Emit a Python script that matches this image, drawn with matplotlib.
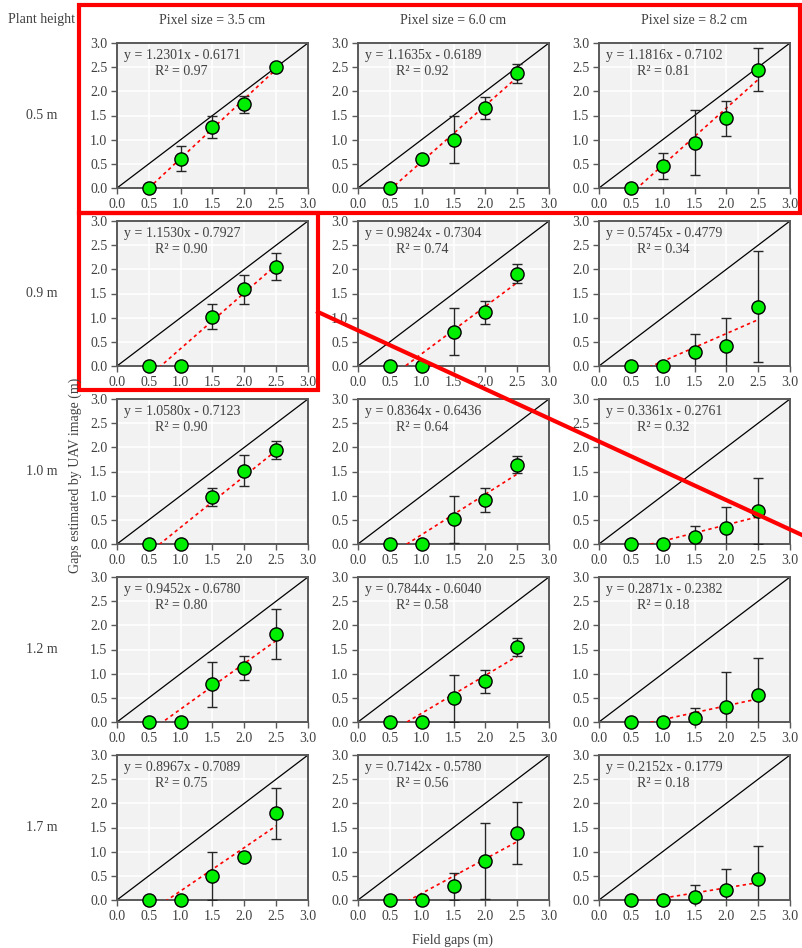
import matplotlib.pyplot as plt
from matplotlib.lines import Line2D
from matplotlib.patches import Rectangle

plt.rcParams['font.family'] = ['Liberation Serif', 'DejaVu Serif']

W, H = 802, 948

field_gaps = [0.5, 1.0, 1.5, 2.0, 2.5]
heights = ["0.5 m", "0.9 m", "1.0 m", "1.2 m", "1.7 m"]
pixel_sizes = ["Pixel size = 3.5 cm", "Pixel size = 6.0 cm", "Pixel size = 8.2 cm"]

# mean estimated gaps, [row][col]
est_05 = [[0.0, 0.61, 1.26, 1.73, 2.51],
          [0.0, 0.59, 1.00, 1.66, 2.37],
          [0.0, 0.45, 0.94, 1.44, 2.45]]
est_09 = [[0.0, 0.0, 1.02, 1.59, 2.05],
          [0.0, 0.0, 0.71, 1.11, 1.91],
          [0.0, 0.0, 0.28, 0.42, 1.23]]
est_10 = [[0.0, 0.0, 0.97, 1.52, 1.94],
          [0.0, 0.0, 0.51, 0.91, 1.64],
          [0.0, 0.0, 0.14, 0.33, 0.68]]
est_12 = [[0.0, 0.0, 0.78, 1.11, 1.82],
          [0.0, 0.0, 0.49, 0.84, 1.55],
          [0.0, 0.0, 0.09, 0.32, 0.56]]
est_17 = [[0.0, 0.0, 0.49, 0.90, 1.79],
          [0.0, 0.0, 0.28, 0.81, 1.38],
          [0.0, 0.0, 0.07, 0.20, 0.43]]

# standard deviations
sd_05 = [[0.0, 0.25, 0.22, 0.17, 0.0],
         [0.0, 0.0, 0.49, 0.23, 0.20],
         [0.0, 0.27, 0.68, 0.37, 0.44]]
sd_09 = [[0.0, 0.0, 0.26, 0.30, 0.28],
         [0.0, 0.0, 0.49, 0.24, 0.20],
         [0.0, 0.0, 0.38, 0.57, 1.15]]
sd_10 = [[0.0, 0.0, 0.18, 0.32, 0.19],
         [0.0, 0.0, 0.49, 0.24, 0.18],
         [0.0, 0.0, 0.23, 0.43, 0.69]]
sd_12 = [[0.0, 0.0, 0.46, 0.25, 0.51],
         [0.0, 0.0, 0.49, 0.24, 0.19],
         [0.0, 0.0, 0.19, 0.71, 0.76]]
sd_17 = [[0.0, 0.0, 0.50, 0.10, 0.52],
         [0.0, 0.0, 0.27, 0.78, 0.64],
         [0.0, 0.0, 0.24, 0.44, 0.69]]

# regression slope, intercept, R2
fit_05 = [(1.2301, -0.6171, 0.97), (1.1635, -0.6189, 0.92), (1.1816, -0.7102, 0.81)]
fit_09 = [(1.1530, -0.7927, 0.90), (0.9824, -0.7304, 0.74), (0.5745, -0.4779, 0.34)]
fit_10 = [(1.0580, -0.7123, 0.90), (0.8364, -0.6436, 0.64), (0.3361, -0.2761, 0.32)]
fit_12 = [(0.9452, -0.6780, 0.80), (0.7844, -0.6040, 0.58), (0.2871, -0.2382, 0.18)]
fit_17 = [(0.8967, -0.7089, 0.75), (0.7142, -0.5780, 0.56), (0.2152, -0.1779, 0.18)]

estimates = [est_05, est_09, est_10, est_12, est_17]
sds = [sd_05, sd_09, sd_10, sd_12, sd_17]
fits = [fit_05, fit_09, fit_10, fit_12, fit_17]

col_left = [117, 358, 599]
row_top = [43, 221, 399, 577, 755]
ax_w, ax_h = 191, 145

fig = plt.figure(figsize=(W / 100, H / 100), dpi=100)
txt_col = '#404040'
spine_col = '#595959'


def fx(x):
    return x / W


def fy(y):
    return 1 - y / H


for r in range(5):
    for c in range(3):
        ax = fig.add_axes([fx(col_left[c]), fy(row_top[r] + ax_h), ax_w / W, ax_h / H])
        ax.set_facecolor('#f2f2f2')
        ax.set_xlim(0, 3)
        ax.set_ylim(0, 3)
        ticks = [0.0, 0.5, 1.0, 1.5, 2.0, 2.5, 3.0]
        ax.set_xticks(ticks)
        ax.set_yticks(ticks)
        ax.set_xticklabels([f"{t:.1f}" for t in ticks])
        ax.set_yticklabels([f"{t:.1f}" for t in ticks])
        ax.tick_params(direction='out', length=4, width=1, color=spine_col,
                       labelsize=10, labelcolor=txt_col, pad=3)
        ax.grid(True, color='white', linewidth=1.2)
        ax.set_axisbelow(True)
        for s in ax.spines.values():
            s.set_color(spine_col)
            s.set_linewidth(1.4)

        ax.plot([0, 3], [0, 3], color='black', linewidth=0.9, zorder=2)

        slope, icpt, r2 = fits[r][c]
        xs = [field_gaps[0], field_gaps[-1]]
        ax.plot(xs, [slope * v + icpt for v in xs], color='red', linestyle=(0, (2, 2)),
                linewidth=1.2, zorder=3)

        ax.errorbar(field_gaps, estimates[r][c], yerr=sds[r][c], fmt='none',
                    ecolor='#262626', elinewidth=1, capsize=3.5, capthick=1, zorder=4)
        ax.plot(field_gaps, estimates[r][c], 'o', markersize=9.5, markerfacecolor='#00ee00',
                markeredgecolor='black', markeredgewidth=1, clip_on=False, zorder=5)

        ax.text(0.035, 0.915, f"y = {slope:.4f}x - {abs(icpt):.4f}", transform=ax.transAxes,
                fontsize=10, color=txt_col, ha='left', va='center')
        ax.text(0.335, 0.805, f"R² = {r2:.2f}", transform=ax.transAxes,
                fontsize=10, color=txt_col, ha='center', va='center')

for c in range(3):
    fig.text(fx(col_left[c] + ax_w / 2), fy(20), pixel_sizes[c], ha='center', va='center',
             fontsize=10, color=txt_col)

fig.text(fx(41), fy(20), "Plant height", ha='center', va='center', fontsize=10, color=txt_col)
for r in range(5):
    fig.text(fx(42), fy(row_top[r] + ax_h / 2), heights[r], ha='center', va='center',
             fontsize=10, color=txt_col)

fig.text(fx(75), fy(475), "Gaps estimated by UAV image (m)", rotation=90, ha='center',
         va='center', fontsize=10, color=txt_col)
fig.text(fx(453), fy(940), "Field gaps (m)", ha='center', va='center', fontsize=10, color=txt_col)

# red annotation overlays
red_lw = 3
fig.add_artist(Rectangle((fx(79), fy(213)), fx(800) - fx(79), fy(5) - fy(213),
                         transform=fig.transFigure, fill=False, edgecolor='red', linewidth=red_lw))
fig.add_artist(Rectangle((fx(79), fy(390)), fx(318) - fx(79), fy(213) - fy(390),
                         transform=fig.transFigure, fill=False, edgecolor='red', linewidth=red_lw))
fig.add_artist(Line2D([fx(318), fx(802)], [fy(312), fy(535)], transform=fig.transFigure,
                      color='red', linewidth=red_lw))

fig.savefig("out.png", dpi=100)
